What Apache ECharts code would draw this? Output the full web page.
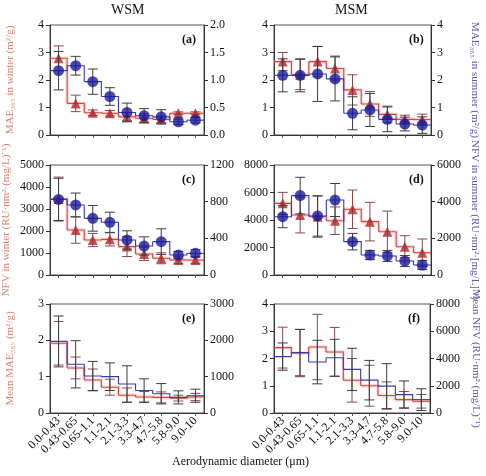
<!DOCTYPE html>
<html><head><meta charset="utf-8">
<script src="https://cdn.jsdelivr.net/npm/echarts@6/dist/echarts.min.js"></script>
<style>html,body{margin:0;padding:0;background:#fff}#c{width:486px;height:476px}</style>
</head><body><div id="c"></div>
<script>
const categories = ['0.0-0.43','0.43-0.65','0.65-1.1','1.1-2.1','2.1-3.3','3.3-4.7','4.7-5.8','5.8-9.0','9.0-10'];

// (a) WSM MAE365
const wsmMaeWinter    = [2.79,1.15,0.81,0.79,0.66,0.61,0.57,0.79,0.79];
const wsmMaeWinterErr = [0.45,0.30,0.10,0.10,0.15,0.15,0.12,0.05,0.05];
const wsmMaeSummer    = [1.17,1.26,0.97,0.70,0.41,0.35,0.33,0.24,0.27];
const wsmMaeSummerErr = [0.35,0.17,0.23,0.16,0.17,0.13,0.13,0.05,0.05];
// (b) MSM MAE365
const msmMaeWinter    = [2.67,2.20,2.67,2.42,1.64,1.13,0.75,0.57,0.56];
const msmMaeWinterErr = [0.33,0.55,0.55,0.45,0.55,0.45,0.30,0.15,0.20];
const msmMaeSummer    = [2.17,2.17,2.22,2.04,0.79,0.91,0.57,0.40,0.36];
const msmMaeSummerErr = [0.60,0.60,1.00,0.80,0.60,0.60,0.45,0.25,0.30];
// (c) WSM NFV
const wsmNfvWinter    = [3450,2045,1590,1620,1290,955,760,680,680];
const wsmNfvWinterErr = [1000,600,300,300,450,300,250,150,150];
const wsmNfvSummer    = [825,764,618,575,382,316,364,218,236];
const wsmNfvSummerErr = [230,130,140,110,100,100,140,40,40];
// (d) MSM NFV
const msmNfvWinter    = [5210,4360,4240,3950,4780,3880,3150,2060,1620];
const msmNfvWinterErr = [800,1300,1500,1000,1400,1400,1500,800,1000];
const msmNfvSummer    = [3180,4330,3220,4090,1820,1090,1040,760,545];
const msmNfvSummerErr = [600,1000,1100,900,450,250,300,300,250];
// (e) WSM mean
const wsmMeanMae    = [1.92,1.24,0.91,0.71,0.49,0.44,0.43,0.41,0.44];
const wsmMeanMaeErr = [0.60,0.30,0.30,0.22,0.20,0.15,0.15,0.08,0.10];
const wsmMeanNfv    = [1970,1340,1020,1000,800,620,530,430,475];
const wsmMeanNfvErr = [700,650,400,380,500,320,280,180,180];
// (f) MSM mean
const msmMeanMae    = [2.40,2.20,2.42,2.24,1.20,1.00,0.64,0.49,0.43];
const msmMeanMaeErr = [0.75,0.87,1.20,0.90,0.80,0.75,0.50,0.30,0.25];
const msmMeanNfv    = [4140,4430,3740,4060,3200,2410,1970,1350,980];
const msmMeanNfvErr = [1000,1700,1600,1350,1550,1450,1650,1000,800];

const FONT = 'Liberation Serif';
const RED_LINE = '#d9443f', RED_MARK = '#b3252c', RED_ERR = '#8a4a4a';
const BLUE_LINE = '#3a3aaa', BLUE_MARK = '#1a1a9a', BLUE_ERR = '#3c3c3c';
const NAME_RED = '#d9826f', NAME_BLUE = '#5a5aa8';

const panels = [
  {grid:{left:50,top:25,width:154,height:110}, tag:'(a)', bottom:false,
   l:{min:0,max:4,interval:1,name:'MAE₃₆₅ in winter (m²/g)',gap:34,dec:0},
   r:{min:0,max:2,interval:0.5,name:'',gap:0,dec:1},
   red:[wsmMaeWinter,wsmMaeWinterErr], blue:[wsmMaeSummer,wsmMaeSummerErr], markers:true},
  {grid:{left:274,top:25,width:157,height:110}, tag:'(b)', bottom:false,
   l:{min:0,max:4,interval:1,name:'',gap:0,dec:0},
   r:{min:0,max:4,interval:1,name:'MAE₃₆₅ in summer (m²/g)',gap:38,dec:0},
   red:[msmMaeWinter,msmMaeWinterErr], blue:[msmMaeSummer,msmMaeSummerErr], markers:true},
  {grid:{left:50,top:165,width:154,height:110}, tag:'(c)', bottom:false,
   l:{min:0,max:5000,interval:1000,name:'NFV in winter (RU·nm²·(mg/L)⁻¹)',gap:38,dec:0},
   r:{min:0,max:1200,interval:400,name:'',gap:0,dec:0},
   red:[wsmNfvWinter,wsmNfvWinterErr], blue:[wsmNfvSummer,wsmNfvSummerErr], markers:true},
  {grid:{left:274,top:165,width:157,height:110}, tag:'(d)', bottom:false,
   l:{min:0,max:8000,interval:2000,name:'',gap:0,dec:0},
   r:{min:0,max:6000,interval:2000,name:'NFV in summer (RU·nm²·[mg/L]⁻¹)',gap:38,dec:0},
   red:[msmNfvWinter,msmNfvWinterErr], blue:[msmNfvSummer,msmNfvSummerErr], markers:true},
  {grid:{left:50,top:304,width:154,height:109}, tag:'(e)', bottom:true,
   l:{min:0,max:3,interval:1,name:'Mean MAE₃₆₅ (m²/g)',gap:34,dec:0},
   r:{min:0,max:3000,interval:1000,name:'',gap:0,dec:0},
   red:[wsmMeanMae,wsmMeanMaeErr], blue:[wsmMeanNfv,wsmMeanNfvErr], markers:false},
  {grid:{left:274,top:304,width:156,height:109}, tag:'(f)', bottom:true,
   l:{min:0,max:4,interval:1,name:'',gap:0,dec:0},
   r:{min:0,max:8000,interval:2000,name:'Mean NFV (RU·nm²·(mg/L)⁻¹)',gap:40,dec:0},
   red:[msmMeanMae,msmMeanMaeErr], blue:[msmMeanNfv,msmMeanNfvErr], markers:false}
];

function stepRender(color, width) {
  return function (params, api) {
    const i = api.value(0), v = api.value(1), nx = api.value(2);
    const p = api.coord([i, v]);
    const w = api.size([1, 0])[0];
    const pts = [[p[0] - w / 2, p[1]], [p[0] + w / 2, p[1]]];
    pts.push([p[0] + w / 2, api.coord([i, nx])[1]]);
    return {type: 'polyline', shape: {points: pts}, style: {stroke: color, lineWidth: width, fill: null}};
  };
}
function errRender(color) {
  return function (params, api) {
    const i = api.value(0);
    const lo = api.coord([i, api.value(1)]), hi = api.coord([i, api.value(2)]);
    const cw = 5;
    const st = {stroke: color, lineWidth: 1};
    return {type: 'group', children: [
      {type: 'line', shape: {x1: lo[0], y1: lo[1], x2: hi[0], y2: hi[1]}, style: st},
      {type: 'line', shape: {x1: lo[0] - cw, y1: lo[1], x2: lo[0] + cw, y2: lo[1]}, style: st},
      {type: 'line', shape: {x1: hi[0] - cw, y1: hi[1], x2: hi[0] + cw, y2: hi[1]}, style: st}
    ]};
  };
}

const grid = [], xAxis = [], yAxis = [], series = [], graphic = [];
panels.forEach((pn, g) => {
  grid.push(Object.assign({show: true, borderColor: '#555', borderWidth: 1, backgroundColor: 'transparent'}, pn.grid));
  xAxis.push({
    type: 'category', gridIndex: g, data: categories, boundaryGap: true,
    axisLine: {lineStyle: {color: '#333'}},
    axisTick: {show: true, alignWithLabel: true, length: 3, lineStyle: {color: '#555'}},
    axisLabel: {show: pn.bottom, rotate: 45, interval: 0, fontFamily: FONT, fontSize: 12, color: '#111', margin: 6}
  });
  const mk = (ax, pos) => ({
    type: 'value', gridIndex: g, position: pos, min: ax.min, max: ax.max, interval: ax.interval,
    name: ax.name, nameLocation: 'middle', nameGap: ax.gap,
    nameRotate: pos === 'right' ? -90 : 90,
    nameTextStyle: {fontFamily: FONT, fontSize: 11, color: pos === 'right' ? NAME_BLUE : NAME_RED},
    splitLine: {show: false},
    axisLine: {show: true, lineStyle: {color: '#333'}},
    axisTick: {show: true, length: 4, lineStyle: {color: '#333'}},
    axisLabel: {fontFamily: FONT, fontSize: 12, color: '#111', margin: 6,
      formatter: v => v.toFixed(ax.dec)}
  });
  yAxis.push(mk(pn.l, 'left'));
  yAxis.push(mk(pn.r, 'right'));
  const yl = 2 * g, yr = 2 * g + 1;
  const stepData = arr => arr.map((v, i) => [i, v, i < arr.length - 1 ? arr[i + 1] : v]);
  const errData = (arr, e) => arr.map((v, i) => [i, Math.max(0, v - e[i]), v + e[i]]);
  const pointData = arr => arr.map((v, i) => [i, v]);
  series.push({type: 'custom', xAxisIndex: g, yAxisIndex: yl, renderItem: stepRender('rgba(235,130,130,0.25)', 3.5), data: stepData(pn.red[0]), z: 2, silent: true});
  series.push({type: 'custom', xAxisIndex: g, yAxisIndex: yl, renderItem: stepRender(RED_LINE, 1.1), data: stepData(pn.red[0]), z: 3, silent: true});
  series.push({type: 'custom', xAxisIndex: g, yAxisIndex: yl, renderItem: errRender(RED_ERR), data: errData(pn.red[0], pn.red[1]), z: 4, silent: true});
  if (pn.markers) series.push({type: 'scatter', xAxisIndex: g, yAxisIndex: yl, symbol: 'triangle', symbolSize: 10, itemStyle: {color: RED_MARK}, data: pointData(pn.red[0]), z: 5});
  series.push({type: 'custom', xAxisIndex: g, yAxisIndex: yr, renderItem: stepRender(BLUE_LINE, 1.1), data: stepData(pn.blue[0]), z: 6, silent: true});
  series.push({type: 'custom', xAxisIndex: g, yAxisIndex: yr, renderItem: errRender(BLUE_ERR), data: errData(pn.blue[0], pn.blue[1]), z: 7, silent: true});
  if (pn.markers) series.push({type: 'scatter', xAxisIndex: g, yAxisIndex: yr, symbol: 'circle', symbolSize: 11, itemStyle: {color: BLUE_MARK}, data: pointData(pn.blue[0]), z: 8});
  graphic.push({type: 'text', left: pn.grid.left + pn.grid.width - 22, top: pn.grid.top + 9,
    style: {text: pn.tag, font: 'bold 12px "Liberation Serif"', fill: '#111'}});
});

graphic.push({type: 'text', left: 111, top: 3, style: {text: 'WSM', font: '14px "Liberation Serif"', fill: '#111'}});
graphic.push({type: 'text', left: 335, top: 3, style: {text: 'MSM', font: '14px "Liberation Serif"', fill: '#111'}});
graphic.push({type: 'text', left: 172, top: 456, style: {text: 'Aerodynamic diameter (μm)', font: '12px "Liberation Serif"', fill: '#111'}});

const chart = echarts.init(document.getElementById('c'), null, {renderer: 'canvas'});
chart.setOption({animation: false, grid, xAxis, yAxis, series, graphic});
</script></body></html>
